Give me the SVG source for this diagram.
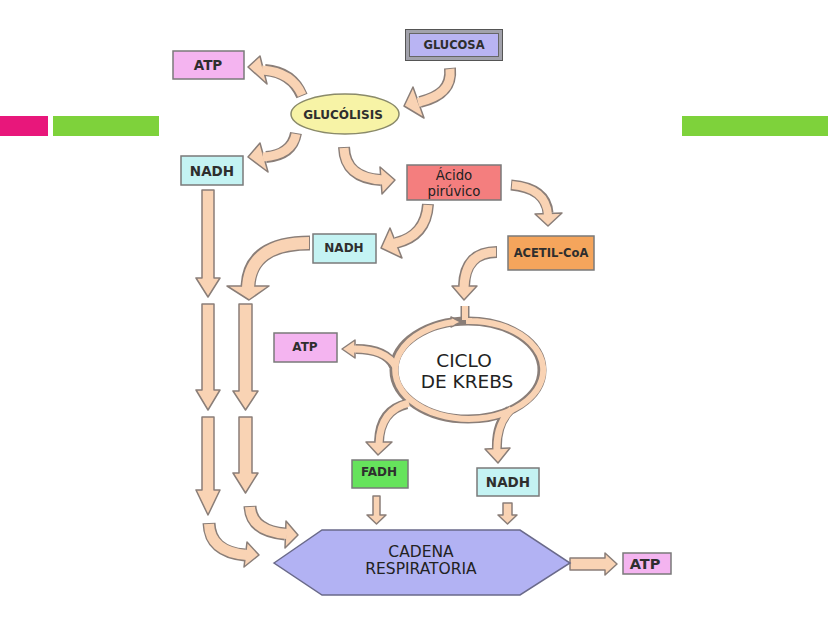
<svg xmlns="http://www.w3.org/2000/svg" width="828" height="621" viewBox="0 0 828 621">
<style>
  .lbl { font-family: "DejaVu Sans", "Liberation Sans", sans-serif; font-weight: bold; fill: #2e2e2e; text-anchor: middle; dominant-baseline: central; }
  .big { font-family: "DejaVu Sans", "Liberation Sans", sans-serif; fill: #222; text-anchor: middle; dominant-baseline: central; }
  .box { stroke: #7a7a7a; stroke-width: 1.5; }
  .bo { fill: none; stroke: #8a7e78; stroke-linecap: butt; }
  .bi { fill: none; stroke: #f9d3b4; stroke-linecap: butt; }
  .hd { fill: #f9d3b4; stroke: #8a7e78; stroke-width: 1.5; stroke-linejoin: round; }
</style>
<rect width="828" height="621" fill="#ffffff"/>
<g id="decor">
  <rect x="0" y="116" width="48" height="20" fill="#e8177b"/>
  <rect x="53" y="116" width="106" height="20" fill="#7ed23b"/>
  <rect x="682" y="116" width="146" height="20" fill="#7ed23b"/>
</g>
<g id="connectors">
  <!-- straight vertical arrows -->
  <polygon class="hd" points="202,190 214,190 214,278 220,278 208,297 196,278 202,278"/>
  <polygon class="hd" points="202,304 214,304 214,390 220,390 208,410 196,390 202,390"/>
  <polygon class="hd" points="202,417 214,417 214,490 220,490 208,515 196,490 202,490"/>
  <polygon class="hd" points="239,304 252,304 252,391 258,391 245.5,410 233,391 239,391"/>
  <polygon class="hd" points="239,417 252,417 252,473 258,473 245.5,493 233,473 239,473"/>
  <polygon class="hd" points="373,496 380,496 380,515 386,515 376.5,524 367,515 373,515"/>
  <polygon class="hd" points="503,503 512,503 512,515 517,515 507.5,524 498,515 503,515"/>
  <polygon class="hd" points="570,558 605,558 605,553 617,564 605,575 605,570 570,570"/>
  <!-- GLUCOSA to GLUCOLISIS -->
  <g>
    <path class="bo" stroke-width="12" d="M450,68 C452,88 440,97 420,102"/>
    <polygon class="hd" points="413,87 404,106 424,118"/>
    <path class="bi" stroke-width="9" d="M450,69 C452,88 440,97 418,102.5"/>
  </g>
  <!-- GLUCOLISIS to ATP -->
  <g>
    <path class="bo" stroke-width="12" d="M302,96 Q292,72 265,70"/>
    <polygon class="hd" points="260,56 248,67 267,84"/>
    <path class="bi" stroke-width="9" d="M302,95 Q292,72 262,70"/>
  </g>
  <!-- GLUCOLISIS to NADH -->
  <g>
    <path class="bo" stroke-width="12" d="M296,133 Q292,155 266,157"/>
    <polygon class="hd" points="260,143 248,157 268,172"/>
    <path class="bi" stroke-width="9" d="M296,134 Q292,155 263,157"/>
  </g>
  <!-- GLUCOLISIS to Acido piruvico -->
  <g>
    <path class="bo" stroke-width="12" d="M344,147 Q345,178 381,180"/>
    <polygon class="hd" points="380,167 395,180 382,194"/>
    <path class="bi" stroke-width="9" d="M344,148 Q345,178 383,180"/>
  </g>
  <!-- Acido to NADH -->
  <g>
    <path class="bo" stroke-width="12" d="M428,204 Q426,236 396,243"/>
    <polygon class="hd" points="390,228 381,248 402,258"/>
    <path class="bi" stroke-width="9" d="M428,205 Q426,236 394,243.5"/>
  </g>
  <!-- Acido to ACETIL-CoA -->
  <g>
    <path class="bo" stroke-width="11" d="M511,185 Q546,188 548,213"/>
    <polygon class="hd" points="535,214 548,226 562,213"/>
    <path class="bi" stroke-width="8" d="M512,185 Q546,188 548,215"/>
  </g>
  <!-- ACETIL-CoA to Krebs -->
  <g>
    <path class="bo" stroke-width="12" d="M497,252 Q465,252 464,286"/>
    <polygon class="hd" points="452,286 464,300 477,286"/>
    <path class="bi" stroke-width="9" d="M496,252 Q465,252 464,288"/>
  </g>
  <!-- NADH to right column -->
  <g>
    <path class="bo" stroke-width="15" d="M310,243 Q250,243 248,286"/>
    <polygon class="hd" points="227,286 249,300 269,286"/>
    <path class="bi" stroke-width="12" d="M309,243 Q250,243 248,288"/>
  </g>
  <!-- bottom-left curved -->
  <g>
    <path class="bo" stroke-width="13" d="M209,523 Q210,552 245,555"/>
    <polygon class="hd" points="247,542 259,555 244,567"/>
    <path class="bi" stroke-width="10" d="M209,524 Q210,552 247,555"/>
  </g>
  <!-- bottom-right curved -->
  <g>
    <path class="bo" stroke-width="13" d="M250,506 Q251,531 285,534"/>
    <polygon class="hd" points="286,521 298,535 285,548"/>
    <path class="bi" stroke-width="10" d="M250,507 Q251,531 287,534"/>
  </g>
  <!-- Krebs ring -->
  <g>
    <path class="bo" stroke-width="9" d="M465,306 L465,318"/>
    <ellipse class="bo" stroke-width="9" cx="468" cy="370" rx="74" ry="49"/>
    <path class="bo" stroke-width="10" d="M394,366 Q386,349 356,349"/>
    <path class="bo" stroke-width="10" d="M407,404 Q380,410 379,442"/>
    <path class="bo" stroke-width="10" d="M510,410 Q496,424 497,449"/>
    <polygon class="hd" points="355,340 342,349 355,358"/>
    <polygon class="hd" points="366,442 378,455 392,442"/>
    <polygon class="hd" points="485,449 498,463 510,448"/>
    <polygon class="hd" points="451,317 461,322 451,327"/>
    <path class="bi" stroke-width="6" d="M465,306 L465,320"/>
    <path class="bi" stroke-width="6" d="M454,322 A74,49 0 1,0 466,321 A74,49 0 0,1 472,321"/>
    <path class="bi" stroke-width="7" d="M396,367 Q386,349 354,349"/>
    <path class="bi" stroke-width="7" d="M409,403 Q380,410 379,444"/>
    <path class="bi" stroke-width="7" d="M512,409 Q496,424 497,451"/>
  </g>
</g>
<g id="glucosa">
  <rect x="407" y="31" width="94" height="28" fill="#b9b4f3" stroke="#a2a2ac" stroke-width="4"/>
  <rect x="405.5" y="29.5" width="97" height="31" fill="none" stroke="#555" stroke-width="1"/>
  <rect x="409.5" y="33.5" width="89" height="23" fill="none" stroke="#666" stroke-width="1"/>
  <text class="lbl" x="454" y="45" font-size="11.5">GLUCOSA</text>
</g>
<g id="atp1">
  <rect class="box" x="173" y="51" width="71" height="28" fill="#f4b4f0"/>
  <text class="lbl" x="208" y="65" font-size="13.5">ATP</text>
</g>
<g id="glucolisis">
  <ellipse cx="345" cy="114" rx="54" ry="20" fill="#f7f3a6" stroke="#8a8a6a" stroke-width="1.5"/>
  <text class="lbl" x="343" y="115" font-size="12">GLUCÓLISIS</text>
</g>
<g id="nadh1">
  <rect class="box" x="181" y="156" width="62" height="29" fill="#c4f3f3"/>
  <text class="lbl" x="212" y="171" font-size="13.5">NADH</text>
</g>
<g id="acido">
  <rect class="box" x="407" y="165" width="94" height="35" fill="#f47e7e"/>
  <text class="big" x="454" y="175" font-size="13.3">Ácido</text>
  <text class="big" x="454" y="191" font-size="13.3">pirúvico</text>
</g>
<g id="nadh2">
  <rect class="box" x="313" y="234" width="63" height="29" fill="#c4f3f3"/>
  <text class="lbl" x="344" y="248" font-size="12">NADH</text>
</g>
<g id="acetil">
  <rect class="box" x="508" y="236" width="86" height="34" fill="#f5a55c"/>
  <text class="lbl" x="551" y="253" font-size="11.5">ACETIL-CoA</text>
</g>
<g id="atp2">
  <rect class="box" x="274" y="333" width="63" height="29" fill="#f4b4f0"/>
  <text class="lbl" x="305" y="347" font-size="12">ATP</text>
</g>
<g id="krebs">
  <text class="big" x="464" y="360" font-size="18.5">CICLO</text>
  <text class="big" x="467" y="381" font-size="18.5">DE KREBS</text>
</g>
<g id="fadh">
  <rect class="box" x="352" y="460" width="56" height="28" fill="#66e35c"/>
  <text class="lbl" x="379" y="472" font-size="12">FADH</text>
</g>
<g id="nadh3">
  <rect class="box" x="477" y="468" width="62" height="28" fill="#c4f3f3"/>
  <text class="lbl" x="508" y="482" font-size="13.5">NADH</text>
</g>
<g id="cadena">
  <polygon points="274,563 322,530 520,530 570,563 520,595 322,595" fill="#b2b2f3" stroke="#6a6a8a" stroke-width="1.5"/>
  <text class="big" x="421" y="552" font-size="15.5">CADENA</text>
  <text class="big" x="421" y="569" font-size="15.5">RESPIRATORIA</text>
</g>
<g id="atp3">
  <rect class="box" x="623" y="553" width="48" height="21" fill="#f4b4f0"/>
  <text class="lbl" x="645" y="564" font-size="14.5">ATP</text>
</g>
</svg>
